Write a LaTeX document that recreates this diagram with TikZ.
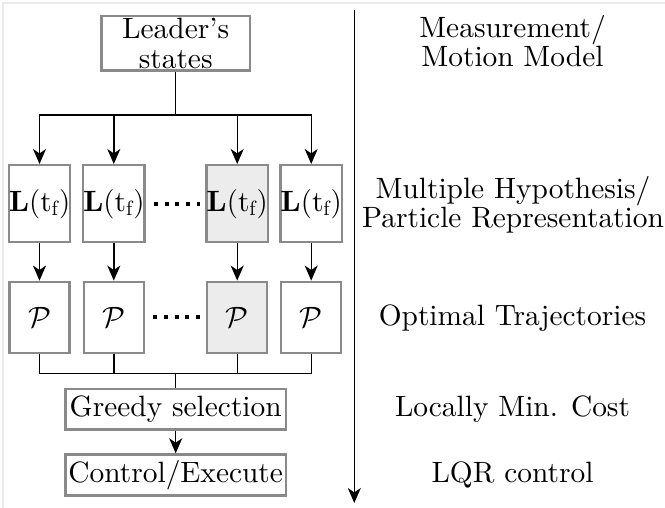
\documentclass[tikz,border=0pt]{standalone}
\usepackage{fix-cm}
\usepackage{fontspec}
\setmainfont{lmroman10-regular.otf}[BoldFont=lmroman10-bold.otf, ItalicFont=lmroman10-italic.otf]
\usetikzlibrary{arrows.meta,calc}
\definecolor{boxborder}{HTML}{8A8A8A}
\definecolor{boxfill}{HTML}{ECECEC}
\definecolor{framegray}{HTML}{EBEBEB}
\tikzset{
  box/.style={draw=boxborder, line width=1.2pt, fill=white, inner sep=0pt, align=center},
  hbox/.style={box, fill=boxfill},
  colbox/.style={minimum width=30pt},
  conn/.style={line width=0.7pt, black},
  arr/.style={conn, -{Stealth[length=7.5pt,width=6.5pt,inset=2.2pt]}},
  dotrow/.style={line width=2pt, dash pattern=on 2pt off 3.4pt},
  label/.style={align=center, inner sep=0pt},
}
\begin{document}
\begin{tikzpicture}[x=0.5pt,y=-0.5pt,font=\fontsize{14.7}{14.7}\selectfont]
\useasboundingbox (0,0) rectangle (665,508);
% faint frame edges
\draw[framegray, line width=1pt] (3,508) -- (3,3) -- (665,3);

% top box
\node[box, minimum width=74.3pt, minimum height=27.1pt] (leader) at (175.7,43.3) {Leader's\\states};

% hypothesis row
\foreach \i/\x in {1/39.5,2/113.8,4/311.2}{
  \node[box, colbox, minimum height=38.5pt] (L\i) at (\x,203.7) {$\mathbf{L}(\mathrm{t}_{\mathrm{f}})$};
  \node[box, colbox, minimum height=35.5pt] (P\i) at (\x,317.3) {$\mathcal{P}$};
}
\node[hbox, colbox, minimum height=38.5pt] (L3) at (237.2,203.7) {$\mathbf{L}(\mathrm{t}_{\mathrm{f}})$};
\node[hbox, colbox, minimum height=35.5pt] (P3) at (237.2,317.3) {$\mathcal{P}$};

% bottom boxes
\node[box, minimum width=110.1pt, minimum height=20.3pt] (greedy) at (175.7,409.2) {Greedy selection};
\node[box, minimum width=110.1pt, minimum height=20.5pt] (control) at (175.7,475) {Control/Execute};

% connectors
\coordinate (b1) at (175.7,115);
\coordinate (b2) at (175.7,373.3);
\draw[conn] (leader.south) -- (b1);
\foreach \i in {1,2,3,4}{
  \draw[arr] (b1) -| (L\i.north);
  \draw[arr] (L\i.south) -- (P\i.north);
  \draw[conn] (P\i.south) |- (b2);
}
\draw[conn] (b2) -- (greedy.north);
\draw[arr] (greedy.south) -- (control.north);

% dots
\draw[dotrow] ([xshift=4pt]L2.east) -- ([xshift=-2.5pt]L3.west);
\draw[dotrow] ([xshift=4pt]P2.east) -- ([xshift=-2.5pt]P3.west);

% time axis
\coordinate (ta) at (354.3,10);
\coordinate (tb) at (354.3,503);
\draw[arr, line width=0.6pt] (ta) -- (tb);

% right labels
\node[label] (t1) at (512.5,41) {Measurement/\\Motion Model};
\node[label] (t2) at (513,205) {Multiple Hypothesis/\\Particle Representation};
\node[label, anchor=base] (t3) at (512.5,325) {Optimal Trajectories};
\node[label, anchor=base] (t4) at (512.5,416.7) {Locally Min. Cost};
\node[label, anchor=base] (t5) at (512.5,482.7) {LQR control};
\end{tikzpicture}
\end{document}
